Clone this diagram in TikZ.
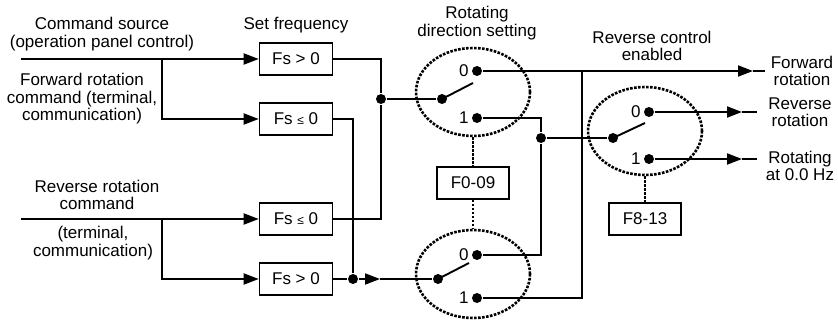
\documentclass[tikz,border=0pt]{standalone}
\usepackage{fontspec}
\setmainfont{Liberation Sans}
\usetikzlibrary{arrows.meta,shapes.geometric}
\newcommand{\smallle}{{\fontsize{12}{12}\selectfont ≤}}

\begin{document}
\begin{tikzpicture}[x=1pt, y=-1pt, line width=1.9pt,
    font=\fontsize{17}{17.5}\selectfont,
    fbox/.style={draw, line width=1.6pt, minimum width=73pt, minimum height=32pt, inner sep=0pt},
    dot/.style={circle, fill=black, inner sep=0pt, minimum size=10pt},
    sel/.style={draw, dash pattern=on 2.6pt off 1.4pt, line width=2.6pt},
    swell/.style={sel, ellipse, inner sep=0pt, minimum width=114pt, minimum height=88pt},
    lbl/.style={align=center},
    arr/.style={-{Triangle[length=15pt,width=11pt]}}]
\useasboundingbox (0,0) rectangle (838,320);

% texts
\node[lbl] (t-src) at (102,34) {Command source\\(operation panel control)};
\node[lbl] (t-fwd) at (82,99) {Forward rotation\\command (terminal,\\communication)};
\node[lbl] (t-rev) at (97,195) {Reverse rotation\\command};
\node[lbl] (t-term) at (93,243) {(terminal,\\communication)};
\node[lbl] (t-set) at (296,25) {Set frequency};
\node[lbl] (t-dir) at (477,23) {Rotating\\direction setting};
\node[lbl] (t-ena) at (652,46) {Reverse control\\enabled};
\node[lbl] (t-out1) at (802,71) {Forward\\rotation};
\node[lbl] (t-out2) at (800,112) {Reverse\\rotation};
\node[lbl] (t-out3) at (800,166) {Rotating\\at 0.0 Hz};

% frequency boxes
\node[fbox] (fs1) at (296,59) {Fs > 0};
\node[fbox] (fs2) at (296,119) {Fs \smallle\ 0};
\node[fbox] (fs3) at (296,219) {Fs \smallle\ 0};
\node[fbox] (fs4) at (296,279) {Fs > 0};

% inputs
\coordinate (in1) at (21,59);
\coordinate (br1) at (162,59);
\coordinate (in2) at (21,219);
\coordinate (br2) at (162,219);
\draw (in1) -- (br1);
\draw[arr] (br1) -- (fs1.west);
\draw[arr] (br1) |- (fs2.west);
\draw (in2) -- (br2);
\draw[arr] (br2) -- (fs3.west);
\draw[arr] (br2) |- (fs4.west);

% rotating direction switches
\node[swell] (sw1) at (473,92) {};
\node[swell] (sw2) at (473,274) {};
\node[dot, label={[inner sep=1.5pt]left:0}] (s1a) at (477,71) {};
\node[dot, label={[inner sep=1.5pt]left:1}] (s1b) at (477,118) {};
\node[dot] (s1p) at (442,99) {};
\coordinate (s1t) at (473,83);
\draw (s1p.center) -- (s1t);
\node[dot, label={[inner sep=1.5pt]left:0}] (s2a) at (477,255) {};
\node[dot, label={[inner sep=1.5pt]left:1}] (s2b) at (477,298) {};
\node[dot] (s2p) at (438,279) {};
\coordinate (s2t) at (469,263);
\draw (s2p.center) -- (s2t);

\node[fbox, minimum width=72pt] (f009) at (473,183) {F0-09};
\draw[sel] (sw1.south) -- (f009.north);
\draw[sel] (f009.south) -- (sw2.north);

% junctions
\node[dot] (j1) at (381,99) {};
\node[dot] (j2) at (353,279) {};
\coordinate (ah1) at (380,279);
\draw (fs1.east) -| (j1);
\draw (fs3.east) -| (j1);
\draw (j1) -- (s1p);
\draw (fs2.east) -| (j2);
\draw (fs4.east) -- (j2);
\draw[arr] (j2) -- (ah1);
\draw (ah1) -- (s2p);

% reverse control switch
\node[swell] (sw3) at (645,131) {};
\node[dot, label={[inner sep=1.5pt]left:0}] (s3a) at (649,112) {};
\node[dot, label={[inner sep=1.5pt]left:1}] (s3b) at (649,159) {};
\node[dot] (s3p) at (613,138) {};
\coordinate (s3t) at (645,123);
\draw (s3p.center) -- (s3t);
\node[fbox, minimum width=72pt] (f813) at (645,219) {F8-13};
\draw[sel] (sw3.south) -- (f813.north);

\node[dot] (j3) at (541,138) {};
\draw (s1b) -| (j3);
\draw (s2a) -| (j3);
\draw (j3) -- (s3p);

% outputs
\coordinate (ah2) at (753,71);
\coordinate (o1) at (765,71);
\coordinate (c1) at (582,71);
\draw[arr] (s1a) -- (ah2);
\draw (ah2) -- (o1);
\draw (s2b) -| (c1);
\coordinate (ah3) at (742,112);
\coordinate (o2) at (757,112);
\draw[arr] (s3a) -- (ah3);
\draw (ah3) -- (o2);
\coordinate (ah4) at (742,159);
\coordinate (o3) at (757,159);
\draw[arr] (s3b) -- (ah4);
\draw (ah4) -- (o3);
\end{tikzpicture}
\end{document}
